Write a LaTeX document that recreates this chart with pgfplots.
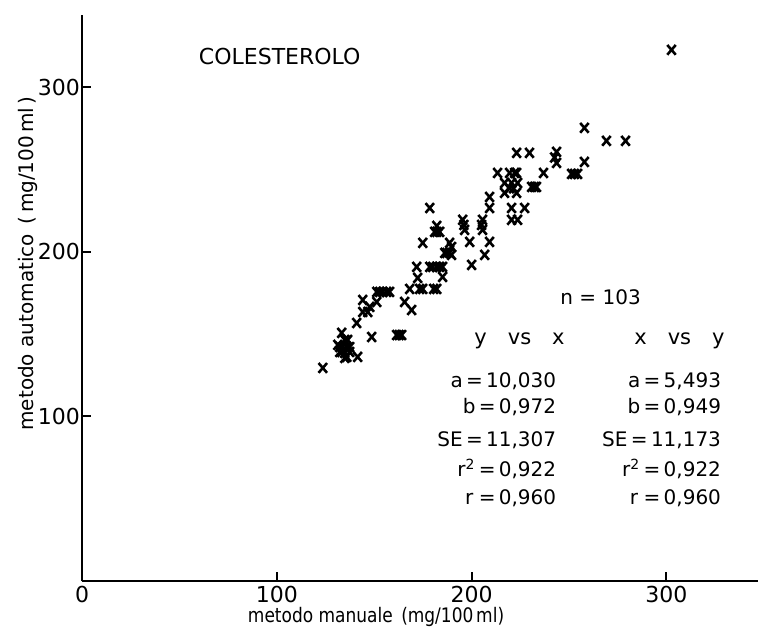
\documentclass[border=0pt]{standalone}
\usepackage{fontspec}
\setmainfont{DejaVu Sans}
\usepackage{pgfplots}
\pgfplotsset{compat=1.18}

\begin{document}
\begin{tikzpicture}
\useasboundingbox (-41pt,-22.5pt) rectangle (338pt,290.5pt);
\begin{axis}[
  at={(0,0)}, anchor=south west,
  scale only axis, width=338pt, height=283pt,
  xmin=0, xmax=347, ymin=0, ymax=344,
  axis lines*=left,
  axis line style={line width=1.4pt},
  xtick={0,100,200,300}, ytick={100,200,300},
  major tick style={line width=1pt, black},
  major tick length=4.5pt,
  tick align=inside,
  /pgf/number format/assume math mode=true,
  ticklabel style={font=\fontsize{11}{13}\selectfont},
  xticklabel style={yshift=1pt},
  yticklabel style={xshift=2.5pt},
  xlabel={metodo manuale\enspace(mg/100\,ml)},
  ylabel={metodo automatico\enspace(\,mg/100\,ml\,)},
  every axis x label/.style={at={(axis description cs:0.435,-0.064)}, anchor=center, font=\fontsize{10}{12}\selectfont, xscale=0.85},
  every axis y label/.style={at={(axis description cs:-0.08,0.561)}, anchor=center, rotate=90, font=\fontsize{10}{12}\selectfont},
  clip=false,
]
% automatic vs manual cholesterol, n = 103
\addplot[only marks, mark=x, mark size=3pt, line width=1.3pt, black, mark options={yscale=1.15}] table {
x y
302.6 322.8
257.9 275.4
269.2 267.5
279.0 267.5
243.6 260.8
243.6 254.1
257.9 254.7
251.3 247.4
254.4 247.4
236.9 248.0
233.3 239.5
230.8 239.5
223.1 260.2
229.7 260.2
213.3 248.0
219.5 248.0
223.1 248.0
216.9 241.9
220.5 241.9
223.6 241.9
216.9 235.9
223.1 235.9
209.2 233.4
209.2 226.7
220.5 226.7
227.2 226.7
220.5 219.5
223.6 219.5
195.4 219.5
196.4 213.4
199.0 206.1
205.6 219.5
205.6 213.4
209.2 206.1
206.7 198.2
189.7 203.0
189.7 198.2
200.0 192.1
178.5 226.7
183.6 212.2
181.0 212.2
182.1 215.8
174.9 205.5
188.7 205.5
186.2 199.4
188.7 199.4
178.5 190.9
182.1 190.9
185.1 190.9
171.8 190.9
172.3 184.2
185.1 184.8
151.3 175.7
154.4 175.7
157.9 175.7
168.2 177.5
174.9 177.5
182.1 177.5
165.6 169.6
169.2 164.7
144.1 170.8
151.3 169.6
144.1 163.5
146.7 163.5
141.0 156.8
148.7 148.3
161.5 149.5
164.1 149.5
133.3 150.8
131.3 143.5
133.8 142.2
137.4 142.2
134.9 138.6
134.9 135.6
141.5 136.2
123.6 129.5
136.4 146.5
132.3 139.2
137.4 139.2
219.5 238.7
221.5 238.7
232.3 239.5
252.8 247.4
222.1 248.0
183.6 190.9
187.2 199.4
182.1 212.2
152.8 175.7
156.4 175.7
147.7 166.6
162.8 149.5
134.9 146.5
132.3 142.2
135.9 142.2
135.9 136.2
133.3 139.2
205.1 216.4
196.0 216.4
180.0 190.9
242.6 257.4
173.3 177.5
180.5 177.5
};

\node[font=\fontsize{11}{13}\selectfont] at (axis cs:101.5,318.5) {COLESTEROLO};
\node[font=\fontsize{10}{12}\selectfont] at (axis cs:266.2,172.6) {n = 103};
\node[font=\fontsize{10.5}{12}\selectfont] at (axis cs:224.6,145.9) {y\quad vs\quad x};
\node[font=\fontsize{10.5}{12}\selectfont] at (axis cs:306.7,145.9) {x\quad vs\quad y};

\begin{scope}[every node/.style={anchor=east, font=\fontsize{10}{12}\selectfont, inner sep=0pt}]
\node at (axis cs:243.6,121.6) {a\,=\,10,030};
\node at (axis cs:243.6,105.8) {b\,=\,0,972};
\node at (axis cs:243.6,85.7) {SE\,=\,11,307};
\node at (axis cs:243.6,68.1) {r\textsuperscript{2}\,=\,0,922};
\node at (axis cs:243.6,50.5) {r\;=\,0,960};
\node at (axis cs:328.2,121.6) {a\,=\,5,493};
\node at (axis cs:328.2,105.8) {b\,=\,0,949};
\node at (axis cs:328.2,85.7) {SE\,=\,11,173};
\node at (axis cs:328.2,68.1) {r\textsuperscript{2}\,=\,0,922};
\node at (axis cs:328.2,50.5) {r\;=\,0,960};
\end{scope}
\end{axis}
\end{tikzpicture}
\end{document}
